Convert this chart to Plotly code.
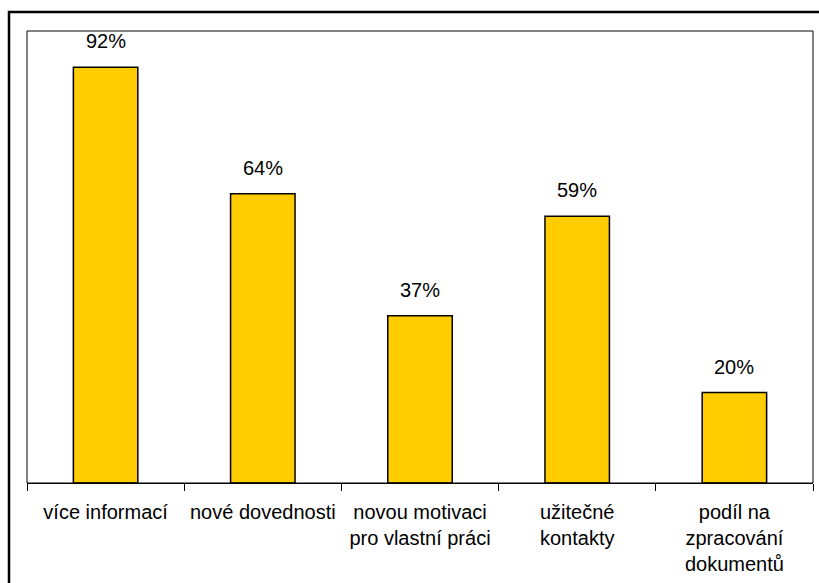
import plotly.graph_objects as go

# Survey results: what participants gained
categories = [
    "více informací",
    "nové dovednosti",
    "novou motivaci<br>pro vlastní práci",
    "užitečné<br>kontakty",
    "podíl na<br>zpracování<br>dokumentů",
]
values = [92, 64, 37, 59, 20]
value_labels = [f"{v}%" for v in values]

W, H = 819, 583
ml, mr, mt, mb = 27, 6, 31, 100
pw = W - ml - mr
ph = H - mt - mb

font = dict(family="Liberation Sans, Arial, sans-serif", size=20, color="#000000")

fig = go.Figure(
    go.Bar(
        x=categories,
        y=values,
        width=0.41,
        marker=dict(color="#FFCC00", line=dict(color="#000000", width=1.5)),
        hoverinfo="skip",
    )
)

# value labels above each bar
for cat, v, lab in zip(categories, values, value_labels):
    fig.add_annotation(
        x=cat, y=v, text=lab, showarrow=False,
        yanchor="bottom", yshift=13, font=font,
    )

# plot-area border
fig.add_shape(
    type="rect", xref="paper", yref="paper", x0=0, x1=1, y0=0, y1=1,
    line=dict(color="#000000", width=1), layer="above",
)

# outer chart frame
def px_x(p):
    return (p - ml) / pw

def px_y(p):
    return (H - mb - p) / ph

fig.add_shape(
    type="rect", xref="paper", yref="paper",
    x0=px_x(9), x1=px_x(W + 20), y0=px_y(H + 20), y1=px_y(12),
    line=dict(color="#000000", width=2.5), layer="above",
)

fig.update_layout(
    width=W, height=H,
    margin=dict(l=ml, r=mr, t=mt, b=mb, autoexpand=False),
    paper_bgcolor="#FFFFFF", plot_bgcolor="#FFFFFF",
    font=font,
    showlegend=False,
    bargap=0.59,
)
fig.update_xaxes(
    type="category",
    showline=True, linecolor="#000000", linewidth=1,
    ticks="outside", tickson="boundaries", ticklen=7, tickcolor="#000000", tickwidth=1,
    tickfont=font, tickangle=0, automargin=False,
    showgrid=False, zeroline=False,
    ticklabelstandoff=11,
)
fig.update_yaxes(
    range=[0, 100], visible=False, showgrid=False, zeroline=False,
)

fig.write_html("out.html")
